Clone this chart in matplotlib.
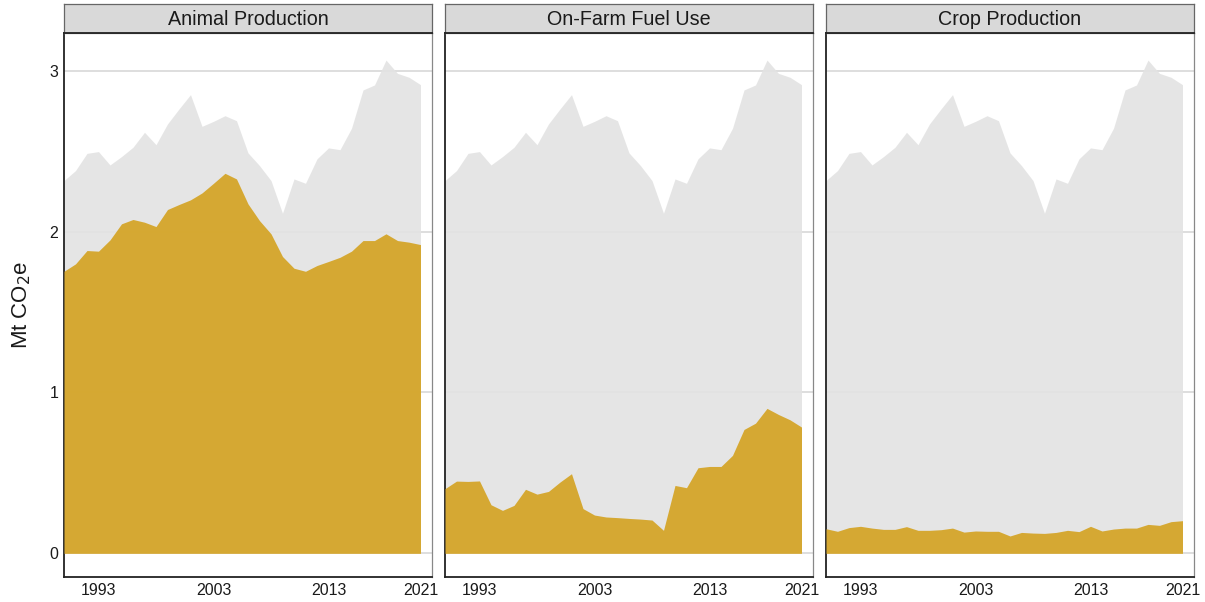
import matplotlib.pyplot as plt

plt.rcParams['font.family'] = ['Liberation Sans', 'DejaVu Sans']

years = list(range(1990, 2022))

total = [2.317, 2.379, 2.486, 2.497, 2.414, 2.466, 2.524, 2.617, 2.540, 2.669,
         2.762, 2.851, 2.654, 2.685, 2.720, 2.689, 2.489, 2.410, 2.317, 2.114,
         2.327, 2.300, 2.452, 2.520, 2.509, 2.642, 2.880, 2.911, 3.066, 2.983,
         2.959, 2.913]

animal = [1.753, 1.799, 1.882, 1.878, 1.948, 2.048, 2.075, 2.058, 2.031, 2.137,
          2.168, 2.197, 2.240, 2.300, 2.362, 2.327, 2.172, 2.068, 1.986, 1.845,
          1.772, 1.753, 1.789, 1.814, 1.840, 1.878, 1.944, 1.944, 1.986, 1.944,
          1.934, 1.919]

fuel = [0.402, 0.449, 0.447, 0.450, 0.302, 0.267, 0.298, 0.398, 0.368, 0.385,
        0.443, 0.495, 0.278, 0.238, 0.226, 0.222, 0.217, 0.213, 0.207, 0.143,
        0.422, 0.408, 0.532, 0.540, 0.540, 0.609, 0.770, 0.809, 0.901, 0.863,
        0.830, 0.785]

crop = [0.153, 0.137, 0.160, 0.168, 0.157, 0.149, 0.149, 0.166, 0.143, 0.143,
        0.147, 0.157, 0.132, 0.139, 0.137, 0.137, 0.108, 0.130, 0.126, 0.124,
        0.130, 0.143, 0.135, 0.168, 0.139, 0.151, 0.157, 0.157, 0.180, 0.174,
        0.197, 0.203]

panels = ["Animal Production", "On-Farm Fuel Use", "Crop Production"]
series = [animal, fuel, crop]

xticks = [1993, 2003, 2013, 2021]
yticks = [0, 1, 2, 3]

fig = plt.figure(figsize=(12.05, 6.02), dpi=100)

lefts = [64, 445, 826]
W, H = 1205, 602
pw = 368
top_px, bot_px, strip_top = 33, 577, 4

for i, name in enumerate(panels):
    ax = fig.add_axes([lefts[i] / W, 1 - bot_px / H, pw / W, (bot_px - top_px) / H])
    ax.fill_between(years, 0, total, color='#e3e3e3', alpha=0.9, lw=0, zorder=2)
    ax.fill_between(years, 0, series[i], color='#d4a21f', alpha=0.9, lw=0, zorder=3)
    ax.set_xlim(1990, 2022)
    ax.set_ylim(-0.147, 3.234)
    ax.set_yticks(yticks)
    ax.set_xticks(xticks)
    ax.grid(axis='y', color='#d4d4d4', lw=1.1, zorder=1)
    ax.set_axisbelow(True)
    ax.tick_params(length=0, labelsize=11.5, colors='#1a1a1a', pad=4)
    if i == 0:
        ax.set_ylabel("Mt CO$_2$e", fontsize=16, color='#1a1a1a', labelpad=12)
    else:
        ax.set_yticklabels([])
    for s in ['top', 'right']:
        ax.spines[s].set_color('#888888')
        ax.spines[s].set_linewidth(0.9)
    for s in ['left', 'bottom']:
        ax.spines[s].set_color('#222222')
        ax.spines[s].set_linewidth(1.3)

    sax = fig.add_axes([lefts[i] / W, 1 - top_px / H, pw / W, (top_px - strip_top) / H])
    sax.set_facecolor('#d9d9d9')
    sax.set_xticks([])
    sax.set_yticks([])
    for s in ['top', 'left', 'right']:
        sax.spines[s].set_color('#666666')
        sax.spines[s].set_linewidth(0.9)
    sax.spines['bottom'].set_color('#222222')
    sax.spines['bottom'].set_linewidth(1.3)
    sax.text(0.5, 0.48, name, ha='center', va='center', fontsize=14.2,
             color='#1a1a1a', transform=sax.transAxes)

fig.savefig("out.png", dpi=100)
